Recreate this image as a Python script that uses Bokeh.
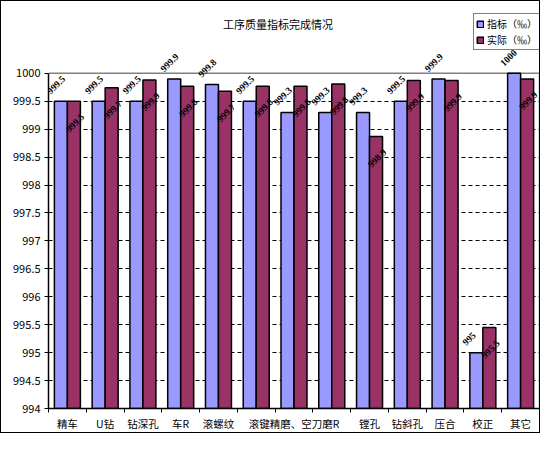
import numpy as np
from bokeh.plotting import figure
from bokeh.models import (Range1d, FixedTicker, ColumnDataSource, Label, LabelSet,
                          Legend, LegendItem, InlineStyleSheet)
from bokeh.transform import dodge
from bokeh.embed import file_html
from bokeh.resources import INLINE

title_text = "工序质量指标完成情况"
categories = ["精车", "U钻", "钻深孔", "车R", "滚螺纹", "", "滚键精磨、空刀磨R", "",
              "镗孔", "钻斜孔", "压合", "校正", "其它"]
series_names = ["指标（‰）", "实际（‰）"]
target = [999.5, 999.5, 999.5, 999.9, 999.8, 999.5, 999.3, 999.3, 999.3, 999.5, 999.9, 995.0, 1000.0]
actual = [999.5, 999.74, 999.88, 999.77, 999.68, 999.77, 999.77, 999.81, 998.87, 999.87, 999.87, 995.45, 999.9]
y_ticks = [994, 994.5, 995, 995.5, 996, 996.5, 997, 997.5, 998, 998.5, 999, 999.5, 1000]

FONT = "Noto Sans CJK SC"
BLUE = "#9999FF"
RED = "#993366"

# layout (pixels inside the 540x433 canvas)
FIG_W, FIG_H = 540, 433
LEFT, BOTTOM = 48, 24          # room for the axes
PLOT_W, PLOT_H = 491, 336      # the plotting area

n = len(categories)
XMIN, XMAX = 0.5, n + 0.5
YMIN, YMAX = y_ticks[0], y_ticks[-1]
px_x = (XMAX - XMIN) / PLOT_W
px_y = (YMAX - YMIN) / PLOT_H
frame_w = FIG_W - LEFT
frame_h = FIG_H - BOTTOM
plot_top = frame_h - PLOT_H     # px from canvas top to plotting area

xs = list(range(1, n + 1))
src = ColumnDataSource(dict(
    x=xs, target=target, actual=actual,
    tlab=[f"{v:g}" for v in target],
    alab=[f"{v:.1f}" for v in actual],
))

p = figure(width=FIG_W, height=FIG_H,
           x_range=Range1d(XMIN, XMIN + frame_w * px_x),
           y_range=Range1d(YMIN, YMIN + frame_h * px_y),
           output_backend="svg", toolbar_location=None,
           min_border_left=LEFT, min_border_right=0, min_border_top=0, min_border_bottom=BOTTOM)
p.stylesheets = [InlineStyleSheet(css=(
    ":host { position: relative; }"
    ":host::after { content: ''; position: absolute; left: 0; top: 0; right: 0; bottom: 0;"
    " border: 1.5px solid black; pointer-events: none; z-index: 100; }"))]
p.background_fill_color = "white"
p.border_fill_color = "white"
p.outline_line_color = None

# axes
p.xaxis.bounds = (XMIN, XMAX)
p.xaxis.ticker = FixedTicker(ticks=xs, minor_ticks=[x - 0.5 for x in xs] + [xs[-1] + 0.5])
p.xaxis.major_label_overrides = {x: c for x, c in zip(xs, categories)}
p.xaxis.major_tick_line_color = None
p.xaxis.major_tick_out = 0
p.xaxis.major_tick_in = 0
p.xaxis.minor_tick_line_color = "black"
p.xaxis.minor_tick_out = 4
p.xaxis.minor_tick_in = 0
p.xaxis.major_label_standoff = 3
p.xaxis.major_label_text_font = FONT
p.xaxis.major_label_text_font_size = "10.5px"
p.xaxis.major_label_text_color = "black"
p.xaxis.axis_line_color = "black"
p.xaxis.axis_line_width = 1.5

p.yaxis.bounds = (YMIN, YMAX)
p.yaxis.ticker = FixedTicker(ticks=y_ticks)
p.yaxis.major_label_overrides = {t: f"{t:g}" for t in y_ticks}
p.yaxis.minor_tick_line_color = None
p.yaxis.major_tick_out = 4
p.yaxis.major_tick_in = 0
p.yaxis.major_label_standoff = 4
p.yaxis.major_label_text_font = FONT
p.yaxis.major_label_text_font_size = "11px"
p.yaxis.major_label_text_color = "black"
p.yaxis.axis_line_color = "black"
p.yaxis.axis_line_width = 1.5

p.xgrid.visible = False
p.ygrid.ticker = FixedTicker(ticks=y_ticks[1:-1])
p.ygrid.bounds = (XMIN, XMAX)
p.ygrid.grid_line_color = "black"
p.ygrid.grid_line_dash = "4 3"
p.ygrid.grid_line_width = 1

# grey border of the plotting area (top and right)
p.segment(x0=[XMIN, XMAX], y0=[YMAX, YMIN], x1=[XMAX, XMAX], y1=[YMAX, YMAX],
          line_color="#808080", line_width=1.5)

W = 0.344
b1 = p.vbar(x=dodge("x", -W / 2, range=p.x_range), top="target", bottom=YMIN, width=W,
            fill_color=BLUE, line_color="black", line_width=1.5, source=src)
b2 = p.vbar(x=dodge("x", W / 2, range=p.x_range), top="actual", bottom=YMIN, width=W,
            fill_color=RED, line_color="black", line_width=1.5, source=src)

lab1 = LabelSet(x=dodge("x", -W, range=p.x_range), y="target", text="tlab", source=src,
                angle=np.pi / 4, text_align="left", text_baseline="middle",
                x_offset=-6, y_offset=9, text_font=FONT, text_font_size="9.5px",
                text_font_style="bold", text_color="black")
lab2 = LabelSet(x=dodge("x", W, range=p.x_range), y="actual", text="alab", source=src,
                angle=np.pi / 4, text_align="right", text_baseline="middle",
                x_offset=2, y_offset=-14, text_font=FONT, text_font_size="9.5px",
                text_font_style="bold", text_color="black")
p.add_layout(lab1)
p.add_layout(lab2)

# title, centred on the chart, 24 px below the canvas top
title = Label(x=XMIN + (FIG_W / 2 + 7.5 - LEFT) * px_x, y=YMAX + (plot_top - 24) * px_y,
              text=title_text, text_align="center", text_baseline="middle",
              text_font=FONT, text_font_size="11px", text_color="black")
p.add_layout(title)

legend = Legend(items=[LegendItem(label=series_names[0], renderers=[b1]),
                       LegendItem(label=series_names[1], renderers=[b2])],
                location=(frame_w - 67, frame_h - 51))
legend.border_line_color = "black"
legend.border_line_width = 1
legend.padding = 2
legend.spacing = 1
legend.margin = 0
legend.label_height = 15
legend.glyph_height = 8
legend.glyph_width = 8
legend.label_standoff = 3
legend.label_text_font = FONT
legend.label_text_font_size = "10px"
legend.label_text_color = "black"
legend.background_fill_alpha = 1
p.add_layout(legend)

open("out.html", "w").write(file_html(p, INLINE))
